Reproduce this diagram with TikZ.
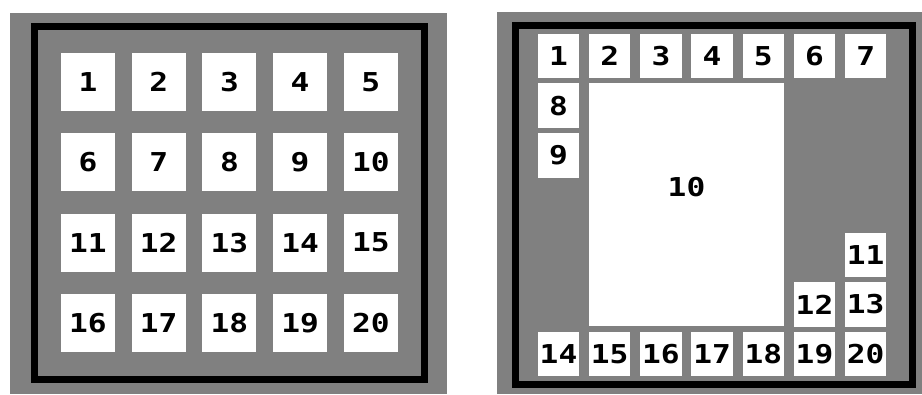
\documentclass[tikz,border=0pt]{standalone}
\usepackage{fontspec}
\newfontfamily\tilefont[FakeStretch=1.2]{DejaVu Sans Mono}
\usetikzlibrary{positioning}

\begin{document}
\begin{tikzpicture}[x=1pt, y=-1pt,
  frame/.style={draw=black, line width=7pt},
  tile/.style={fill=white, inner sep=0pt, minimum width=54pt, minimum height=58pt,
               font=\tilefont\bfseries\fontsize{26}{26}\selectfont},
  smalltile/.style={tile, minimum width=41.5pt, minimum height=44.5pt},
]
\useasboundingbox (0,0) rectangle (922,394);
\definecolor{bggray}{RGB}{128,128,128}

% left: regular 4x5 layout
\fill[bggray] (10,13) rectangle (447,394);
\draw[frame] (34.5,26.5) rectangle (424.5,379.5);
\foreach \r in {0,...,3}
  \foreach \c in {1,...,5}{
    \pgfmathtruncatemacro\n{\r*5+\c}
    \node[tile] (a\n) at ({88+(\c-1)*70.7},{82+\r*80.3}) {\n};
  }

% right: border tiles round one big tile
\fill[bggray] (497,12) rectangle (922,394);
\draw[frame] (515.5,25.5) rectangle (912.5,384.5);
\foreach \n/\c/\r in {1/0/0,2/1/0,3/2/0,4/3/0,5/4/0,6/5/0,7/6/0,
                      8/0/1,9/0/2,11/6/4,12/5/5,13/6/5,
                      14/0/6,15/1/6,16/2/6,17/3/6,18/4/6,19/5/6,20/6/6}
  \node[smalltile] (b\n) at ({558.5+\c*51.2},{56+\r*49.7}) {\n};
\node[tile, minimum width=195pt, minimum height=243pt,
      label={[font=\tilefont\bfseries\fontsize{26}{26}\selectfont, yshift=17pt]center:10}]
  (b10) at (686.5,204.5) {};
\end{tikzpicture}
\end{document}
